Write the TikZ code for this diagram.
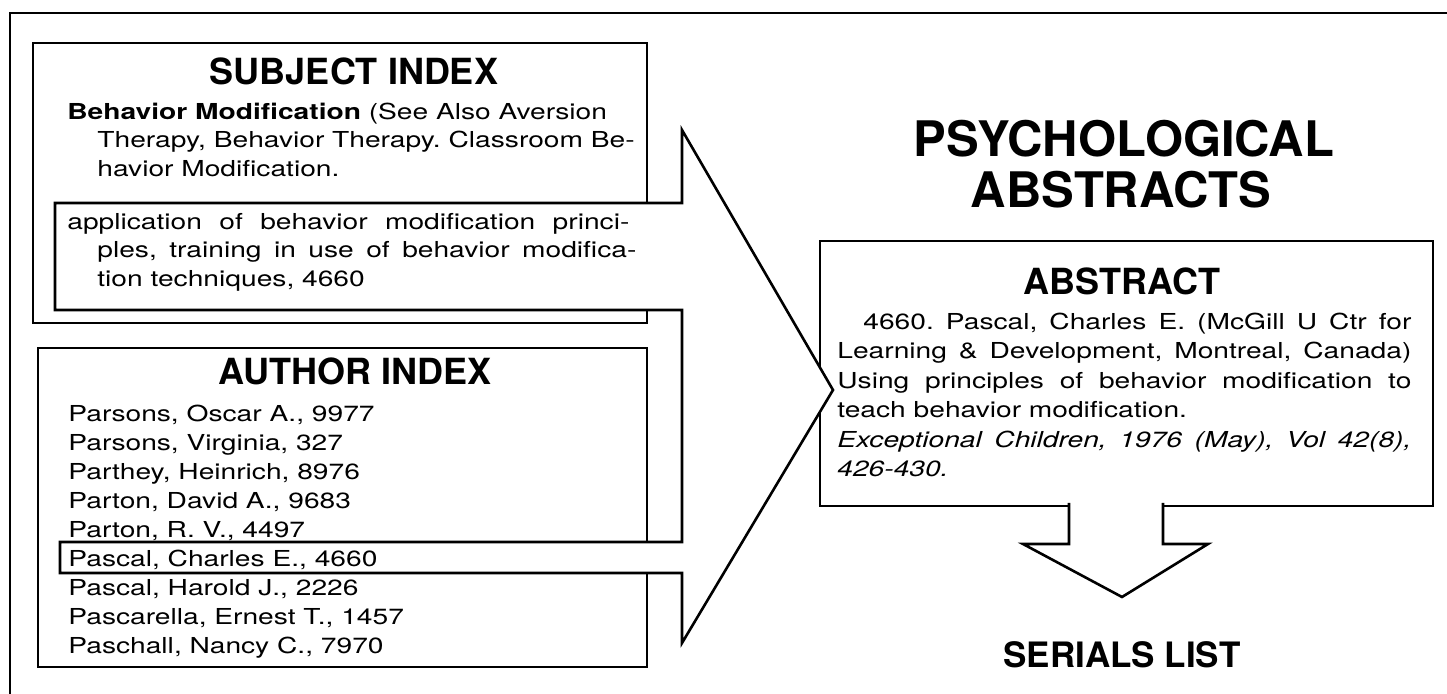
\documentclass[tikz,border=0pt]{standalone}
\usepackage{fontspec}
\newfontfamily\bodyfont[FakeStretch=1.28]{TeX Gyre Heros}
\newfontfamily\headfont{TeX Gyre Heros}
\newcommand{\justline}[2]{\makebox[#1][s]{#2}}
\tikzset{
  box/.style={line width=1.3pt},
  head/.style={font=\headfont\bfseries\fontsize{18}{20}\selectfont, inner sep=0pt, anchor=base},
  title/.style={head, font=\headfont\bfseries\fontsize{24.5}{26}\selectfont},
  entry/.style={font=\bodyfont\fontsize{11}{14.5}\selectfont\frenchspacing, inner sep=0pt, anchor=base west},
}

\begin{document}
\begin{tikzpicture}[x=0.5pt,y=-0.5pt]
    \useasboundingbox (0,0) rectangle (1447,694);

    \coordinate (S1) at (33,43);    % subject index
    \coordinate (S2) at (647,323);
    \coordinate (U1) at (38,348);   % author index
    \coordinate (U2) at (647,667);
    \coordinate (B1) at (820,241);  % abstract
    \coordinate (B2) at (1433,506);

    \draw[box] (10,694) -- (10,13) -- (1447,13); % frame

    \draw[box] (S1) rectangle (S2);
    \draw[box] (U1) rectangle (U2);
    \draw[box] (B1) rectangle (B2);

    % down to the serials list
    \draw[box, fill=white] (1069,503) -- (1069,544) -- (1023,544) -- (1122,597)
        -- (1208,544) -- (1163,544) -- (1163,503);

    % both index entries run into one arrow
    \draw[box, fill=white] (55,203) -- (682,203) -- (682,130) -- (833,390)
        -- (682,643) -- (682,573) -- (60,573) -- (60,542) -- (682,542)
        -- (682,310) -- (55,310) -- cycle;

    \node[head] (subj) at (354,85) {SUBJECT INDEX};
    \node[entry] (subj1) at (67,120) {\textbf{Behavior Modification} (See Also Aversion};
    \node[entry] (subj2) at (97,148) {Therapy, Behavior Therapy. Classroom Be-};
    \node[entry] (subj3) at (97,177) {havior Modification.};
    \node[entry] (appl1) at (67,230) {\justline{281pt}{application of behavior modification princi-}};
    \node[entry] (appl2) at (97,258) {\justline{269.5pt}{ples, training in use of behavior modifica-}};
    \node[entry] (appl3) at (97,287) {tion techniques, 4660};

    \node[head] (auth) at (355,385) {AUTHOR INDEX};
    \foreach \who [count=\i from 0] in {{Parsons, Oscar A., 9977}, {Parsons, Virginia, 327},
        {Parthey, Heinrich, 8976}, {Parton, David A., 9683}, {Parton, R. V., 4497},
        {Pascal, Charles E., 4660}, {Pascal, Harold J., 2226},
        {Pascarella, Ernest T., 1457}, {Paschall, Nancy C., 7970}}
        \node[entry] (auth\i) at (68,{422+29*\i}) {\who};

    \node[title] (psy1) at (1124,157) {PSYCHOLOGICAL};
    \node[title] (psy2) at (1121,208) {ABSTRACTS};

    \node[head] (abst) at (1122,295) {ABSTRACT};
    \node[entry] (abst1) at (863,330) {\justline{274pt}{4660. Pascal, Charles E. (McGill U Ctr for}};
    \node[entry] (abst2) at (837,359) {\justline{287pt}{Learning \& Development, Montreal, Canada)}};
    \node[entry] (abst3) at (837,389) {\justline{287pt}{Using principles of behavior modification to}};
    \node[entry] (abst4) at (837,418) {teach behavior modification.};
    \node[entry] (abst5) at (837,448) {\itshape\justline{287pt}{Exceptional Children, 1976 (May), Vol 42(8),}};
    \node[entry] (abst6) at (837,477) {\itshape 426-430.};

    \node[head, font=\headfont\bfseries\fontsize{17.5}{20}\selectfont] (serial) at (1122,668) {SERIALS LIST};
\end{tikzpicture}
\end{document}
